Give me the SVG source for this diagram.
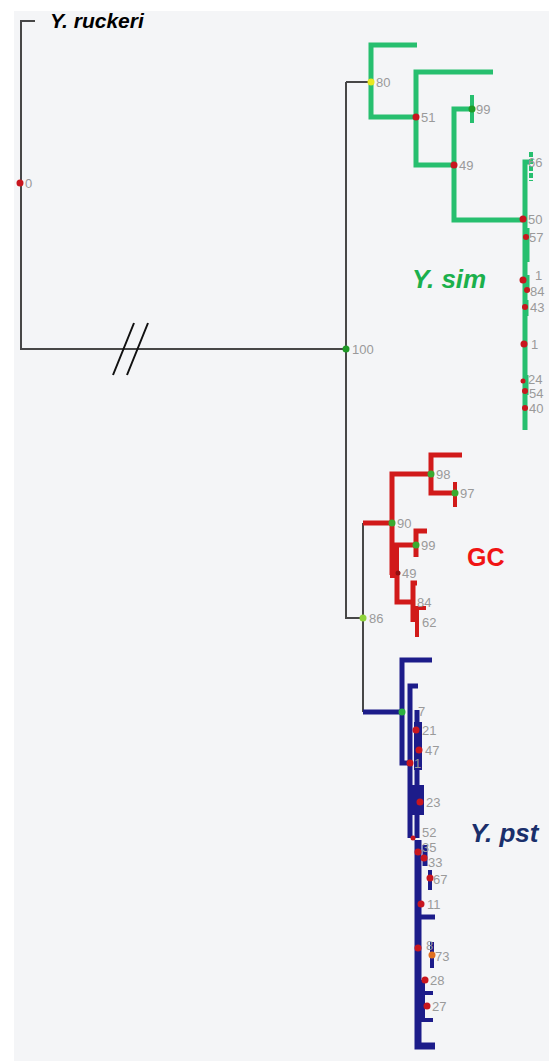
<svg xmlns="http://www.w3.org/2000/svg" width="549" height="1061" viewBox="0 0 549 1061">
<style>
.k{stroke:#474747;stroke-width:2;fill:none}
.g{stroke:#27bf6f;stroke-width:5;fill:none}
.r{stroke:#d11a1a;stroke-width:5;fill:none}
.b{stroke:#1c1c8a;stroke-width:5;fill:none}
.lbl{font-family:"Liberation Sans",Arial,sans-serif;font-size:13px;fill:#9a9a9a}
.dr{fill:#c8161e}
.dg{fill:#1f9a25}
.dl{fill:#8fd43a}
.dy{fill:#e8e820}
.do{fill:#e07020}
.big{font-family:"Liberation Sans",Arial,sans-serif;font-weight:bold;font-style:italic}
</style>
<rect x="14" y="11" width="535" height="1050" fill="#f4f5f7"/>
<g id="connectors">
  <path class="k" d="M35,21 H21 V349 H346"/>
  <path class="k" d="M346,82 V618 H363"/>
  <path class="k" d="M346,82 H371"/>
  <path class="k" d="M363,523 V712"/>
  <path d="M113,375 L134,323 M127,375 L148,323" stroke="#111" stroke-width="2" fill="none"/>
  <!-- green -->
  <path class="g" d="M417,45 H371 V117 H416"/>
  <path class="g" d="M493,72 H416 V165 H454"/>
  <path class="g" d="M472,109 H454 V220 H525"/>
  <path class="g" d="M472,95 V123" style="stroke-width:4"/>
  <path class="g" d="M530,162 H525 V430"/>
  <path class="g" d="M531,152 V181" style="stroke-width:4;stroke-dasharray:5 2"/>
  <path class="g" d="M528,228 V262 M528,275 V292 M527,300 V316 M527,375 V395" style="stroke-width:3"/>
  <!-- red -->
  <path class="r" d="M363,523 H392"/>
  <path class="r" d="M431,474 H392 V575"/>
  <path class="r" d="M462,455 H431 V493 H455"/>
  <path class="r" d="M455,482 V507" style="stroke-width:4"/>
  <path class="r" d="M392,545 H416"/>
  <path class="r" d="M427,531 H416 V557"/>
  <rect x="390" y="545" width="9" height="33" fill="#d11a1a"/>
  <path class="r" d="M397,575 V602 H413"/>
  <path class="r" d="M417,583 H413 V622"/>
  <path class="r" d="M426,608 H417 V637" style="stroke-width:4"/>
  <!-- blue -->
  <path class="b" d="M363,712 H402"/>
  <path class="b" d="M432,660 H402 V763 H410"/>
  <path class="b" d="M418,686 H410 V838"/>
  <path class="b" d="M417,710 V770"/>
  <rect x="414" y="722" width="8" height="48" fill="#1c1c8a"/>
  <path class="b" d="M417,765 V838"/>
  <rect x="409" y="785" width="15" height="30" fill="#1c1c8a"/>
  <path class="b" d="M418,840 V1046 H435" style="stroke-width:7"/>
  <path class="b" d="M418,917 H435"/>
  <path class="b" d="M425,845 V866"/>
  <path class="b" d="M430,870 V890" style="stroke-width:4"/>
  <path class="b" d="M432,942 V968" style="stroke-width:4"/>
  <path class="b" d="M423,980 V1020 H433" style="stroke-width:4"/>
  <path class="b" d="M423,993 H433" style="stroke-width:4"/>
</g>
<g id="root-leaf"><text class="big" x="50" y="28" font-size="21" fill="#000">Y. ruckeri</text></g>
<g id="n0"><circle class="dr" cx="20" cy="183" r="3.5"/><text class="lbl" x="25" y="188">0</text></g>
<g id="n100"><circle class="dg" cx="346" cy="349" r="3.5"/><text class="lbl" x="352" y="354">100</text></g>
<g id="n80"><circle class="dy" cx="371" cy="82" r="3.5"/><text class="lbl" x="376" y="87">80</text></g>
<g id="n51"><circle class="dr" cx="416" cy="117" r="3.5"/><text class="lbl" x="421" y="122">51</text></g>
<g id="n99g"><circle class="dg" cx="472" cy="109" r="3.5"/><text class="lbl" x="476" y="114">99</text></g>
<g id="n49g"><circle class="dr" cx="454" cy="165" r="3.5"/><text class="lbl" x="459" y="170">49</text></g>
<g id="n66"><text class="lbl" x="528" y="167">66</text></g>
<g id="n50"><circle class="dr" cx="523" cy="219" r="3.5"/><text class="lbl" x="528" y="224">50</text></g>
<g id="n57"><circle class="dr" cx="526" cy="237" r="3"/><text class="lbl" x="529" y="242">57</text></g>
<g id="n1a"><circle class="dr" cx="523" cy="280" r="3.5"/><text class="lbl" x="535" y="280" font-size="9">1</text></g>
<g id="n84g"><circle class="dr" cx="527" cy="290" r="3"/><text class="lbl" x="530" y="296" font-size="12">84</text></g>
<g id="n43"><circle class="dr" cx="525" cy="307" r="3"/><text class="lbl" x="530" y="312">43</text></g>
<g id="n1b"><circle class="dr" cx="524" cy="344" r="3.5"/><text class="lbl" x="531" y="349">1</text></g>
<g id="n24"><circle class="dr" cx="523" cy="381" r="2.5"/><text class="lbl" x="528" y="384" font-size="11">24</text></g>
<g id="n54"><circle class="dr" cx="525" cy="391" r="3"/><text class="lbl" x="529" y="398" font-size="11">54</text></g>
<g id="n40"><circle class="dr" cx="525" cy="408" r="3"/><text class="lbl" x="529" y="413">40</text></g>
<g id="ysim"><text class="big" x="412" y="288" font-size="26" fill="#1bb04c">Y. sim</text></g>
<g id="n90"><circle cx="392" cy="523" r="3.5" fill="#3aaa30"/><text class="lbl" x="397" y="528">90</text></g>
<g id="n98"><circle cx="431" cy="474" r="3.5" fill="#3aaa30"/><text class="lbl" x="436" y="479">98</text></g>
<g id="n97"><circle cx="455" cy="493" r="3.5" fill="#3aaa30"/><text class="lbl" x="460" y="498">97</text></g>
<g id="n99r"><circle cx="416" cy="545" r="3.5" fill="#3aaa30"/><text class="lbl" x="421" y="550">99</text></g>
<g id="n49r"><circle cx="398" cy="573" r="2.5" fill="#901010"/><text class="lbl" x="402" y="578">49</text></g>
<g id="n84r"><text class="lbl" x="417" y="607">84</text></g>
<g id="n62"><text class="lbl" x="422" y="627">62</text></g>
<g id="n86"><circle class="dl" cx="363" cy="618" r="3.5"/><text class="lbl" x="369" y="623">86</text></g>
<g id="gc"><text x="467" y="566" font-family="Liberation Sans, Arial, sans-serif" font-weight="bold" font-size="25" fill="#f01414">GC</text></g>
<g id="nblue"><circle cx="402" cy="712" r="3.5" fill="#2cb040"/><text class="lbl" x="418" y="716">7</text></g>
<g id="n21"><circle class="dr" cx="416" cy="730" r="3.5"/><text class="lbl" x="422" y="735">21</text></g>
<g id="n47"><circle class="dr" cx="419" cy="750" r="3.5"/><text class="lbl" x="425" y="755">47</text></g>
<g id="n1c"><circle class="dr" cx="410" cy="763" r="3.5"/><text class="lbl" x="414" y="768">1</text></g>
<g id="n23"><circle class="dr" cx="420" cy="802" r="3.5"/><text class="lbl" x="426" y="807">23</text></g>
<g id="n52"><circle class="dr" cx="413" cy="838" r="2.5"/><text class="lbl" x="422" y="837" font-size="11">52</text></g>
<g id="n35"><circle class="dr" cx="418" cy="852" r="3.5"/><text class="lbl" x="422" y="852" font-size="10">35</text></g>
<g id="n33"><circle class="dr" cx="424" cy="858" r="3.5"/><text class="lbl" x="428" y="867">33</text></g>
<g id="n67"><circle class="dr" cx="430" cy="878" r="3.5"/><text class="lbl" x="433" y="884">67</text></g>
<g id="n11"><circle class="dr" cx="421" cy="904" r="3.5"/><text class="lbl" x="427" y="909">11</text></g>
<g id="n8"><circle class="dr" cx="418" cy="948" r="3.5"/><text class="lbl" x="426" y="950" font-size="10">8</text></g>
<g id="n73"><circle class="do" cx="432" cy="955" r="3.5"/><text class="lbl" x="435" y="961">73</text></g>
<g id="n28"><circle class="dr" cx="425" cy="980" r="3.5"/><text class="lbl" x="430" y="985">28</text></g>
<g id="n27"><circle class="dr" cx="427" cy="1006" r="3.5"/><text class="lbl" x="432" y="1011">27</text></g>
<g id="ypst"><text class="big" x="470" y="842" font-size="26" fill="#1a2f6b">Y. pst</text></g>
</svg>
